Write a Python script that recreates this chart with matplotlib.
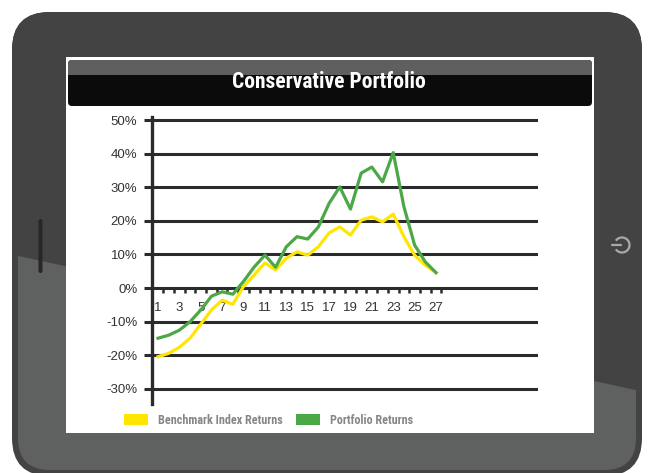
import matplotlib
matplotlib.use('Agg')
import matplotlib.pyplot as plt
from matplotlib.patches import FancyBboxPatch, Rectangle, Polygon, Arc, Patch

# 數據
periods = list(range(1, 28))
benchmark = [-20.4, -19.4, -17.6, -14.9, -10.7, -6.5, -3.6, -4.8, 0.5, 3.9,
             7.5, 5.4, 8.9, 10.8, 9.8, 12.3, 16.4, 18.2, 15.8, 20.2,
             21.2, 19.7, 22.0, 15.3, 9.8, 6.8, 4.6]
portfolio = [-14.9, -14.0, -12.5, -10.0, -6.5, -2.4, -1.1, -1.8, 2.0, 6.3,
             9.8, 6.2, 12.3, 15.3, 14.6, 18.2, 25.2, 30.1, 23.5, 34.2,
             36.0, 31.6, 40.3, 24.2, 12.8, 7.8, 4.6]
y_ticks = [-30, -20, -10, 0, 10, 20, 30, 40, 50]
x_labels = list(range(1, 28, 2))
title = 'Conservative Portfolio'
series_names = ['Benchmark Index Returns', 'Portfolio Returns']
series_colors = ['#ffe600', '#4ca847']

W, H = 654, 473
narrow = ['Roboto Condensed', 'Roboto', 'DejaVu Sans']
plain = ['Liberation Sans', 'DejaVu Sans']

fig = plt.figure(figsize=(W / 100, H / 100), dpi=100)
fig.patch.set_facecolor('white')

# 背景：平板外框
bg = fig.add_axes([0, 0, 1, 1])
bg.set_xlim(0, W)
bg.set_ylim(H, 0)
bg.axis('off')

dark = '#434343'
light = '#5f6160'
outer = FancyBboxPatch((12, 12), 630, 464, boxstyle='round,pad=0,rounding_size=38',
                       fc=dark, ec='none')
bg.add_patch(outer)
inner = FancyBboxPatch((18, 18), 618, 452, boxstyle='round,pad=0,rounding_size=32',
                       fc=light, ec='none')
bg.add_patch(inner)
# 斜線上方深色
top_dark = Polygon([(0, 0), (W, 0), (W, 394), (0, 252)], closed=True, fc=dark, ec='none')
bg.add_patch(top_dark)
top_dark.set_clip_path(outer)

# 左側按鈕
bg.add_patch(FancyBboxPatch((38.5, 219), 4, 54, boxstyle='round,pad=0,rounding_size=2',
                            fc='#272727', ec='none'))
# 電源圖示
bg.add_patch(Arc((622, 245), 15, 15, theta1=-145, theta2=145, lw=1.6, color='#a9a9a9'))
bg.plot([612, 621], [245, 245], color='#a9a9a9', lw=1.6, solid_capstyle='round')

# 螢幕
bg.add_patch(Rectangle((66, 57), 528, 376, fc='white', ec='none'))
# 標題列
bar = FancyBboxPatch((68, 60), 524, 46, boxstyle='round,pad=0,rounding_size=4',
                     fc='#0b0b0b', ec='none')
bg.add_patch(bar)
band = Rectangle((60, 55), 540, 20, fc='#5f5f5f', ec='none')
bg.add_patch(band)
band.set_clip_path(bar)
bg.text(329, 82, title, color='white', fontsize=15.5, fontweight='bold',
        family=narrow, ha='center', va='center')

# 圖表
x0 = 1 - 6 / 10.692
x1 = 27 + 102 / 10.692
ya = 50 + 3 / 3.36
yb = -30 - 15 / 3.36
ax = fig.add_axes([152 / W, 1 - 404 / H, (538 - 152) / W, (404 - 117) / H])
ax.set_xlim(x0, x1)
ax.set_ylim(yb, ya)
ax.patch.set_alpha(0)

grid_c = '#2b2b2b'
for v in y_ticks:
    ax.axhline(v, color=grid_c, lw=2.2, zorder=1)

for s in ['top', 'right']:
    ax.spines[s].set_visible(False)
ax.spines['left'].set_color(grid_c)
ax.spines['left'].set_linewidth(2.4)
ax.spines['bottom'].set_position(('data', 0))
ax.spines['bottom'].set_visible(False)

ax.set_yticks(y_ticks)
ax.set_yticklabels([f'{v}%' for v in y_ticks], family=plain, fontsize=9.5, color='#333333')
ax.tick_params(axis='y', length=5.5, width=2.2, color=grid_c, pad=5)

ax.set_xticks([p + 0.5 for p in range(1, 28)])
ax.set_xticklabels([])
ax.tick_params(axis='x', which='major', length=3.5, width=1.8, color=grid_c, direction='out')
ax.set_xticks(x_labels, minor=True)
ax.set_xticklabels([str(v) for v in x_labels], minor=True, family=plain, fontsize=9.5,
                   color='#333333')
ax.tick_params(axis='x', which='minor', length=0, pad=10)

ax.plot(periods, benchmark, color=series_colors[0], lw=2.3, solid_joinstyle='round', zorder=3)
ax.plot(periods, portfolio, color=series_colors[1], lw=2.3, solid_joinstyle='round', zorder=4)

# 圖例
handles = [Patch(fc=c, ec='none') for c in series_colors]
fig.legend(handles, series_names, loc='center left', bbox_to_anchor=(113 / W, 1 - 420 / H),
           ncol=2, frameon=False, handlelength=2.0, handleheight=1.0, handletextpad=0.8,
           columnspacing=1.1, prop={'family': narrow, 'size': 8.7, 'weight': 'bold'},
           labelcolor='#878787')

fig.savefig('out.png', dpi=100)
